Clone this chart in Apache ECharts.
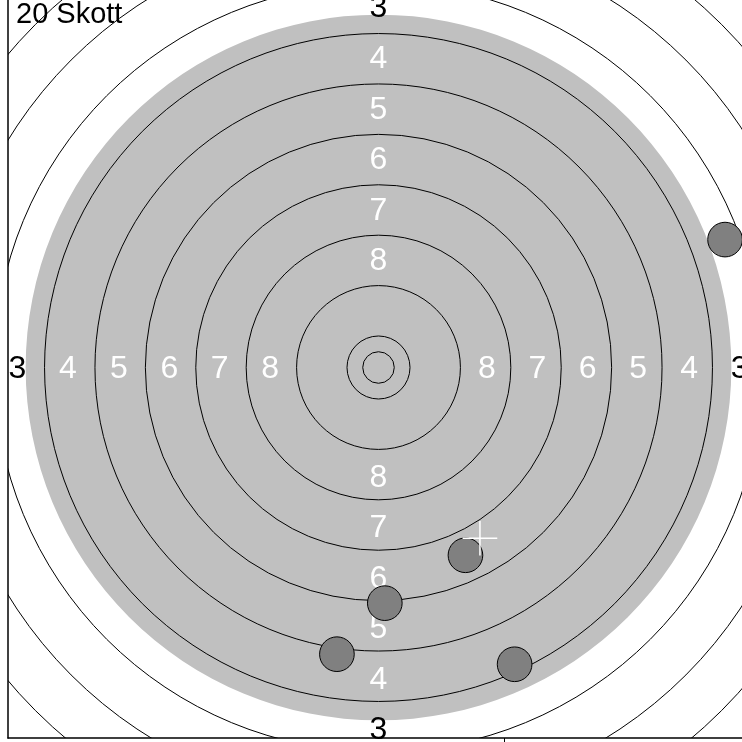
<!DOCTYPE html>
<html>
<head>
<meta charset="utf-8">
<script src="https://cdn.jsdelivr.net/npm/echarts@6/dist/echarts.min.js"></script>
<style>
  html, body { margin: 0; padding: 0; background: #fff; }
  #target { width: 742px; height: 742px; }
</style>
</head>
<body>
<div id="target"></div>
<script>
// target geometry (mm, centre = 0,0)
var ringRadii = [2.5, 5, 13, 21, 29, 37, 45, 53, 61, 69, 77];
var blackRadius = 56;
var ringLabels = ['8', '7', '6', '5', '4', '3'];
var labelRadii = [17.2, 25.2, 33.2, 41.2, 49.3, 57.3];
// shots
var shotX = [55.0, 13.8, 1.0, -6.6, 21.6];
var shotY = [20.3, -29.8, -37.4, -45.5, -47.1];
var holeRadius = 2.75;
// mean point of impact
var meanX = [16.1];
var meanY = [-27.1];
var axisMax = 58.8;
var xTicks = [20];
var shotCount = 20;

var chart = echarts.init(document.getElementById('target'));

var labelData = [];
ringLabels.forEach(function (t, i) {
  var r = labelRadii[i];
  labelData.push([-r, 0, i], [r, 0, i], [0, r, i], [0, -r, i]);
});

var option = {
  animation: false,
  title: {
    text: shotCount + ' Skott',
    left: 16,
    top: 0,
    padding: 0,
    textStyle: { color: '#000', fontSize: 29, fontWeight: 'normal', fontFamily: 'Liberation Sans' }
  },
  grid: { left: 8, top: -3, width: 741, height: 741, outerBoundsMode: 'none' },
  xAxis: {
    type: 'value', min: -axisMax, max: axisMax,
    axisLine: { onZero: false, lineStyle: { color: '#000', width: 1.5 } },
    axisTick: { show: true, customValues: xTicks, length: 5, lineStyle: { color: '#000' } },
    axisLabel: { show: false },
    splitLine: { show: false }
  },
  yAxis: {
    type: 'value', min: -axisMax, max: axisMax,
    axisLine: { onZero: false, lineStyle: { color: '#000', width: 1.5 } },
    axisTick: { show: false },
    axisLabel: { show: false },
    splitLine: { show: false }
  },
  series: [
    {
      // grey aiming area
      type: 'custom', clip: true, silent: true,
      data: [[0, 0, blackRadius]],
      renderItem: function (params, api) {
        var c = api.coord([api.value(0), api.value(1)]);
        var r = api.size([api.value(2), 0])[0];
        return { type: 'circle', shape: { cx: c[0], cy: c[1], r: r }, style: { fill: '#c0c0c0' } };
      }
    },
    {
      // ring lines
      type: 'custom', clip: true, silent: true,
      data: ringRadii.map(function (r) { return [0, 0, r]; }),
      renderItem: function (params, api) {
        var c = api.coord([api.value(0), api.value(1)]);
        var r = api.size([api.value(2), 0])[0];
        return { type: 'circle', shape: { cx: c[0], cy: c[1], r: r }, style: { fill: null, stroke: '#000', lineWidth: 1 } };
      }
    },
    {
      // ring numbers
      type: 'custom', clip: false, silent: true,
      data: labelData,
      renderItem: function (params, api) {
        var c = api.coord([api.value(0), api.value(1)]);
        var i = api.value(2);
        return {
          type: 'text', x: c[0], y: c[1] + 2,
          style: {
            text: ringLabels[i],
            fill: labelRadii[i] < blackRadius ? '#fff' : '#000',
            font: '32px "Liberation Sans", Arial, sans-serif',
            align: 'center', verticalAlign: 'middle'
          }
        };
      }
    },
    {
      // shots
      type: 'custom', clip: true, silent: true,
      data: shotX.map(function (x, i) { return [x, shotY[i], holeRadius]; }),
      renderItem: function (params, api) {
        var c = api.coord([api.value(0), api.value(1)]);
        var r = api.size([api.value(2), 0])[0];
        return { type: 'circle', shape: { cx: c[0], cy: c[1], r: r }, style: { fill: '#808080', stroke: '#000', lineWidth: 1 } };
      }
    },
    {
      // mean point of impact
      type: 'custom', clip: true, silent: true,
      data: meanX.map(function (x, i) { return [x, meanY[i], holeRadius]; }),
      renderItem: function (params, api) {
        var c = api.coord([api.value(0), api.value(1)]);
        var h = api.size([api.value(2), 0])[0];
        return {
          type: 'group',
          children: [
            { type: 'line', shape: { x1: c[0] - h, y1: c[1], x2: c[0] + h, y2: c[1] }, style: { stroke: '#fff', lineWidth: 1.5 } },
            { type: 'line', shape: { x1: c[0], y1: c[1] - h, x2: c[0], y2: c[1] + h }, style: { stroke: '#fff', lineWidth: 1.5 } }
          ]
        };
      }
    }
  ]
};

chart.setOption(option);
window.addEventListener('resize', function () { chart.resize(); });
</script>
</body>
</html>
